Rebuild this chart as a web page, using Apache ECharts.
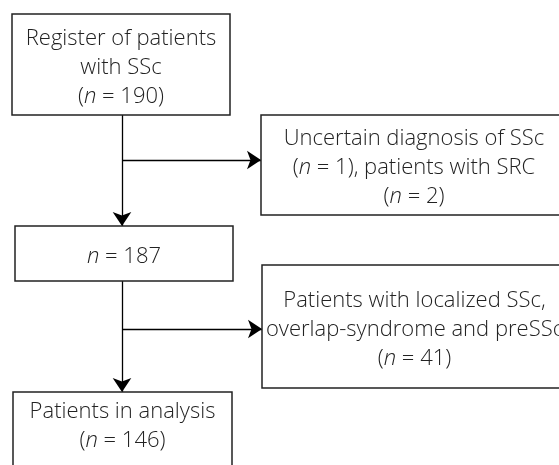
<!DOCTYPE html>
<html>
<head>
<meta charset="utf-8">
<script src="https://cdn.jsdelivr.net/npm/echarts@6/dist/echarts.min.js"></script>
<style>
  html, body { margin: 0; padding: 0; background: #fff; }
  #chart { width: 559px; height: 465px; }
</style>
</head>
<body>
<div id="chart"></div>
<script>
// box texts (*n* = italic n)
var boxLabels = [
  'Register of patients\nwith SSc\n(*n* = 190)',
  'Uncertain diagnosis of SSc\n(*n* = 1), patients with SRC\n(*n* = 2)',
  '*n* = 187',
  'Patients with localized SSc,\noverlap-syndrome and preSSc\n(*n* = 41)',
  'Patients in analysis\n(*n* = 146)'
];
// box extents, in the page's own units
var boxX0 = [12, 261, 15, 262, 13];
var boxX1 = [230, 567, 233, 567, 232];
var boxY0 = [14, 115, 226, 265, 392];
var boxY1 = [115, 215, 281, 388, 480];
// arrows: from -> to
var arrowFrom = [[122, 115], [122, 281], [122, 160], [122, 329]];
var arrowTo = [[122, 226], [122, 392], [261, 160], [262, 329]];

var boxData = [];
for (var i = 0; i < boxLabels.length; i++) {
  boxData.push([boxX0[i], boxY0[i], boxX1[i], boxY1[i]]);
}
var arrowData = [];
for (var j = 0; j < arrowFrom.length; j++) {
  arrowData.push({ coords: [arrowFrom[j], arrowTo[j]] });
}

function toRich(s) {
  return s.split('*n*').join('{i|n}');
}

var chart = echarts.init(document.getElementById('chart'));
var option = {
  animation: false,
  grid: { left: 0, right: 0, top: 0, bottom: 0 },
  xAxis: { type: 'value', min: 0, max: 559, show: false },
  yAxis: { type: 'value', min: 0, max: 465, inverse: true, show: false },
  series: [
    {
      type: 'custom',
      coordinateSystem: 'cartesian2d',
      clip: false,
      encode: { x: [0, 2], y: [1, 3] },
      data: boxData,
      renderItem: function (params, api) {
        var p0 = api.coord([api.value(0), api.value(1)]);
        var p1 = api.coord([api.value(2), api.value(3)]);
        var cx = (p0[0] + p1[0]) / 2;
        var cy = (p0[1] + p1[1]) / 2 + 3;
        // last box runs off the page; centre its text on the visible part
        if (params.dataIndex === 4) cy = p0[1] + 34;
        return {
          type: 'group',
          children: [
            {
              type: 'rect',
              shape: { x: p0[0], y: p0[1], width: p1[0] - p0[0], height: p1[1] - p0[1] },
              style: { fill: '#fff', stroke: '#222', lineWidth: 1.5 }
            },
            {
              type: 'text',
              style: {
                text: toRich(boxLabels[params.dataIndex]),
                x: cx,
                y: cy,
                align: 'center',
                verticalAlign: 'middle',
                fontFamily: 'Open Sans',
                fontWeight: 300,
                fontSize: 22,
                lineHeight: 29,
                fill: '#222',
                rich: {
                  i: { fontStyle: 'italic', fontFamily: 'Open Sans', fontWeight: 300, fontSize: 22, lineHeight: 29, fill: '#222' }
                }
              }
            }
          ]
        };
      },
      z: 2
    },
    {
      type: 'lines',
      coordinateSystem: 'cartesian2d',
      data: arrowData,
      symbol: ['none', 'arrow'],
      symbolSize: [10, 14],
      lineStyle: { color: '#000', width: 1.3, opacity: 1 },
      z: 1
    }
  ]
};
chart.setOption(option);
</script>
</body>
</html>
